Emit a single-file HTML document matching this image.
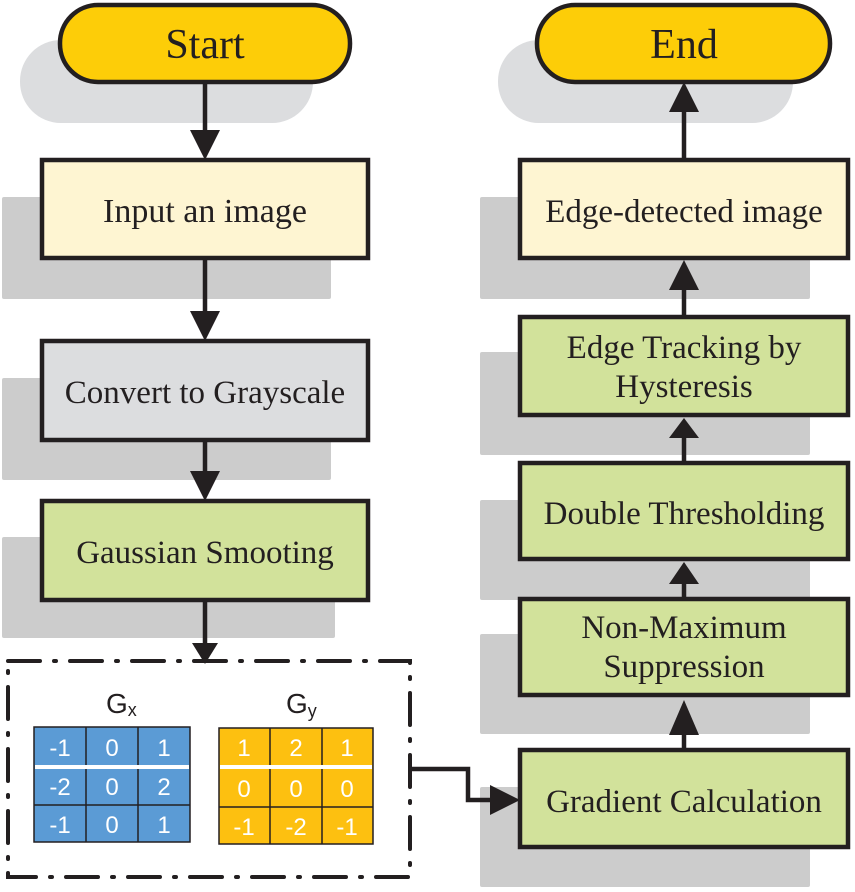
<!DOCTYPE html>
<html><head><style>body{margin:0;background:#fff}svg{display:block}</style></head>
<body>
<svg width="855" height="892" viewBox="0 0 855 892" xmlns="http://www.w3.org/2000/svg">
<g fill="#dcdddf">
<rect x="20" y="40" width="293" height="83" rx="41"/>
<rect x="498" y="40" width="295" height="83" rx="41"/>
</g>
<g fill="#cccccc">
<rect x="2" y="197" width="329" height="102" rx="2"/>
<rect x="2" y="378" width="329" height="102" rx="2"/>
<rect x="2" y="537" width="333" height="101" rx="2"/>
<rect x="480" y="197" width="330" height="102" rx="2"/>
<rect x="480" y="352" width="330" height="103" rx="2"/>
<rect x="480" y="500" width="330" height="100" rx="2"/>
<rect x="480" y="634" width="330" height="100" rx="2"/>
<rect x="480" y="787" width="330" height="100" rx="2"/>
</g>
<g stroke="#231f20" stroke-width="4.5">
<rect x="60" y="5" width="290" height="77" rx="38" fill="#fdcd08"/>
<rect x="537" y="5" width="293" height="77" rx="38" fill="#fdcd08"/>
<rect x="42" y="160" width="326" height="98" fill="#fef5d2"/>
<rect x="42" y="341" width="326" height="99" fill="#dcdddf"/>
<rect x="42" y="501" width="326" height="99" fill="#d2e29b"/>
<rect x="520" y="160" width="328" height="98" fill="#fef5d2"/>
<rect x="520" y="317" width="328" height="98" fill="#d2e29b"/>
<rect x="520" y="463" width="328" height="96" fill="#d2e29b"/>
<rect x="520" y="599" width="328" height="96" fill="#d2e29b"/>
<rect x="520" y="750" width="328" height="97" fill="#d2e29b"/>
</g>
<g stroke="#231f20" stroke-width="4.5" fill="none">
<line x1="205" y1="82" x2="205" y2="140"/>
<line x1="205" y1="258" x2="205" y2="320"/>
<line x1="205" y1="440" x2="205" y2="480"/>
<line x1="205" y1="600" x2="205" y2="643"/>
<line x1="684" y1="160" x2="684" y2="104"/>
<line x1="684" y1="317" x2="684" y2="280"/>
<line x1="684" y1="463" x2="684" y2="435"/>
<line x1="684" y1="599" x2="684" y2="580"/>
<line x1="684" y1="750" x2="684" y2="716"/>
<polyline points="411,769 468,769 468,800 500,800"/>
</g>
<g fill="#231f20">
<polygon points="190,130 220,130 205,160"/>
<polygon points="190,311 220,311 205,341"/>
<polygon points="190,471 220,471 205,501"/>
<polygon points="192,643 218,643 205,664"/>
<polygon points="669,112 699,112 684,82"/>
<polygon points="669,290 699,290 684,260"/>
<polygon points="669,438 699,438 684,418"/>
<polygon points="669,584 699,584 684,562"/>
<polygon points="669,735 699,735 684,700"/>
<polygon points="490,785 490,815 520,800"/>
</g>
<rect x="8" y="661" width="402" height="216" fill="none" stroke="#231f20" stroke-width="4" stroke-dasharray="32 14 2 14" stroke-linecap="round"/>
<g font-family="Liberation Serif, serif" fill="#231f20" text-anchor="middle">
<text x="205" y="58" font-size="42">Start</text>
<text x="684" y="58" font-size="42">End</text>
<text x="205" y="222" font-size="34">Input an image</text>
<text x="205" y="403" font-size="33">Convert to Grayscale</text>
<text x="205" y="563" font-size="33">Gaussian Smooting</text>
<text x="684" y="222" font-size="33">Edge-detected image</text>
<text x="684" y="358" font-size="33">Edge Tracking by</text>
<text x="684" y="397" font-size="33">Hysteresis</text>
<text x="684" y="524" font-size="33">Double Thresholding</text>
<text x="684" y="638" font-size="33">Non-Maximum</text>
<text x="684" y="677" font-size="33">Suppression</text>
<text x="684" y="812" font-size="33">Gradient Calculation</text>
</g>
<g font-family="Liberation Sans, sans-serif">
<text x="106" y="713" font-size="28" fill="#231f20">G<tspan font-size="18" dy="3">x</tspan></text>
<text x="286" y="713" font-size="28" fill="#231f20">G<tspan font-size="18" dy="4">y</tspan></text>
<rect x="34" y="727" width="156" height="115" fill="#5b9bd5" stroke="#231f20" stroke-width="1.5"/>
<rect x="219" y="728" width="154" height="116" fill="#fdc010" stroke="#231f20" stroke-width="1.5"/>
<g stroke="#231f20" stroke-width="1.5">
<line x1="86" y1="727" x2="86" y2="842"/><line x1="138" y1="727" x2="138" y2="842"/>
<line x1="34" y1="805" x2="190" y2="805"/>
<line x1="270" y1="728" x2="270" y2="844"/><line x1="322" y1="728" x2="322" y2="844"/>
<line x1="219" y1="807" x2="373" y2="807"/>
</g>
<g stroke="#fff" stroke-width="4">
<line x1="35" y1="767" x2="189" y2="767"/>
<line x1="220" y1="767" x2="372" y2="767"/>
</g>
<g fill="#fff" font-size="24" text-anchor="middle">
<text x="60" y="756">-1</text><text x="112" y="756">0</text><text x="164" y="756">1</text>
<text x="60" y="795">-2</text><text x="112" y="795">0</text><text x="164" y="795">2</text>
<text x="60" y="833">-1</text><text x="112" y="833">0</text><text x="164" y="833">1</text>
<text x="244" y="756">1</text><text x="296" y="756">2</text><text x="347" y="756">1</text>
<text x="244" y="797">0</text><text x="296" y="797">0</text><text x="347" y="797">0</text>
<text x="244" y="835">-1</text><text x="296" y="835">-2</text><text x="347" y="835">-1</text>
</g>
</g>
</svg>
</body></html>
